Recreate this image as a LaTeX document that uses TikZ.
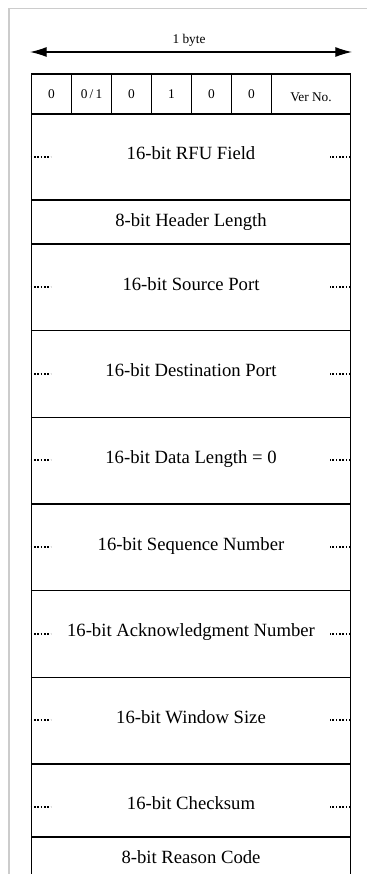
\documentclass[tikz,border=0pt]{standalone}
\usepackage{fontspec}
\setmainfont{Liberation Serif}
\usetikzlibrary{arrows.meta,positioning}
\definecolor{Frame}{HTML}{CCCCCC}

\begin{document}
\begin{tikzpicture}[x=0.75pt,y=-0.75pt,node distance=0pt,>={Latex[length=12.5pt,width=7.5pt]}]
\tikzset{bitcell/.style={draw,line width=0.9pt,outer sep=0pt,inner sep=0pt,minimum width=30pt,minimum height=30pt,font=\fontsize{10}{12}\selectfont},
  field/.style={draw,line width=0.9pt,outer sep=0pt,inner sep=0pt,minimum width=239.25pt,minimum height=65pt,font=\fontsize{14}{16}\selectfont,text height=10pt,text depth=5.9pt},
  slim/.style={field,minimum height=33pt,text depth=3pt},
  dots/.style={line width=1.6pt,dash pattern=on 1.2pt off 1.3pt}}
\useasboundingbox (0,0) rectangle (367,874);
\clip (0,0) rectangle (367,874);
\draw[Frame,line width=1.3pt] (9,874) |- (367,8.5);
% byte span
\coordinate (spanL) at (30,52);
\coordinate (spanR) at (352,52);
\draw[<->,line width=0.9pt] (spanL) -- (spanR);
\node[font=\fontsize{10}{12}\selectfont] (byte) at (189,40) {1 byte};
% first byte
\node[bitcell,anchor=north west] (b0) at (31.5,74) {0};
\node[bitcell,right=of b0] (b1) {0\,/\,1};
\node[bitcell,right=of b1] (b2) {0};
\node[bitcell,right=of b2] (b3) {1};
\node[bitcell,right=of b3] (b4) {0};
\node[bitcell,right=of b4] (b5) {0};
\node[bitcell,right=of b5,minimum width=59.25pt,text depth=0pt,text height=10.6pt] (ver) {Ver No.};
% header fields
\node[field,minimum height=64.5pt,anchor=north west] (rfu) at (b0.south west) {16-bit RFU Field};
\node[slim,below=of rfu] (hdr) {8-bit Header Length};
\node[field,below=of hdr] (src) {16-bit Source Port};
\node[field,below=of src] (dst) {16-bit Destination Port};
\node[field,below=of dst] (len) {16-bit Data Length = 0};
\node[field,below=of len] (seq) {16-bit Sequence Number};
\node[field,below=of seq] (ack) {16-bit Acknowledgment Number};
\node[field,below=of ack] (win) {16-bit Window Size};
\node[field,minimum height=54.75pt,text height=13pt,text depth=0pt,below=of win] (chk) {16-bit Checksum};
\node[slim,below=of chk] (rsn) {8-bit Reason Code};
\foreach \r in {rfu,src,dst,len,seq,ack,win,chk} {
  \draw[dots] ([xshift=-0.6pt,yshift=-32.3pt]\r.north west) -- ++(20,0);
  \draw[dots] ([yshift=-32.3pt]\r.north east) -- ++(-21,0);
}
\end{tikzpicture}
\end{document}
